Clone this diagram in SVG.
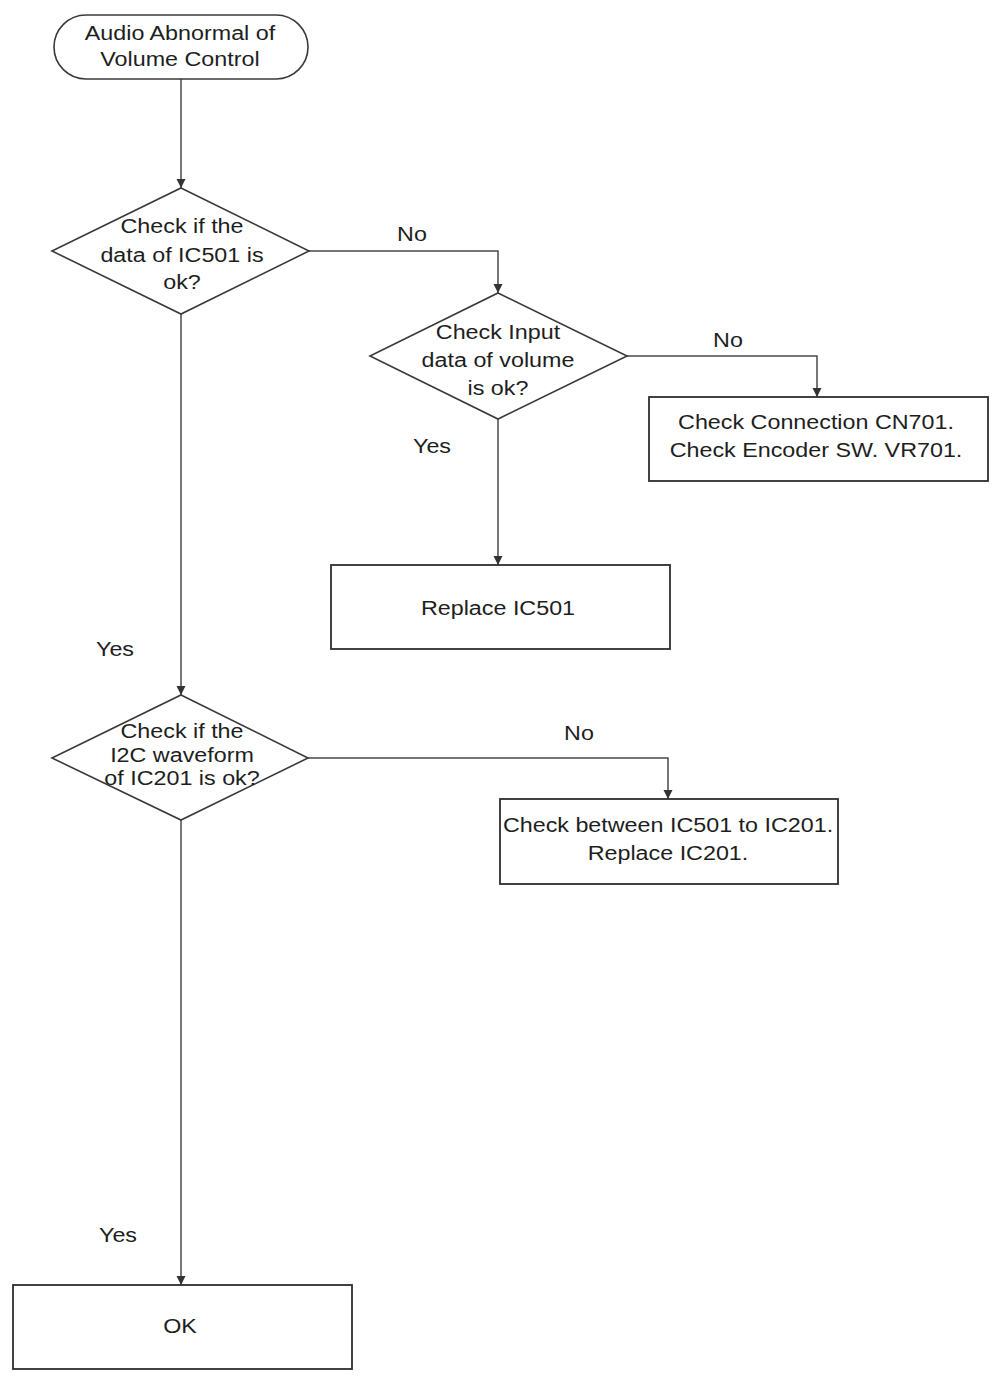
<svg xmlns="http://www.w3.org/2000/svg" width="996" height="1378" viewBox="0 0 996 1378">
<defs>
<style>
.shape{fill:#fff;stroke:#3a3a3a;stroke-width:1.6}
.box{fill:#fff;stroke:#2e2e2e;stroke-width:1.8}
.conn{fill:none;stroke:#4a4a4a;stroke-width:1.5}
text{font-family:"Liberation Sans",Arial,sans-serif;font-size:21px;fill:#1e1e1e;text-anchor:middle}
</style>
<marker id="arr" markerWidth="11" markerHeight="10" refX="9" refY="4.5" orient="auto" markerUnits="userSpaceOnUse">
<path d="M0,0 L9,4.5 L0,9 z" fill="#333"/>
</marker>
</defs>
<rect width="996" height="1378" fill="#fff"/>

<g id="connectors">
<path class="conn" d="M181,79 V188" marker-end="url(#arr)"/>
<path class="conn" d="M309,251 H498 V293" marker-end="url(#arr)"/>
<path class="conn" d="M627,356 H817 V397" marker-end="url(#arr)"/>
<path class="conn" d="M498,419 V565" marker-end="url(#arr)"/>
<path class="conn" d="M181,314 V695" marker-end="url(#arr)"/>
<path class="conn" d="M308,758 H668 V799" marker-end="url(#arr)"/>
<path class="conn" d="M181,820 V1285" marker-end="url(#arr)"/>
<text transform="translate(412 0) scale(1.11 1)" x="0" y="241">No</text>
<text transform="translate(728 0) scale(1.11 1)" x="0" y="347">No</text>
<text transform="translate(432 0) scale(1.11 1)" x="0" y="453">Yes</text>
<text transform="translate(115 0) scale(1.11 1)" x="0" y="656">Yes</text>
<text transform="translate(579 0) scale(1.11 1)" x="0" y="740">No</text>
<text transform="translate(118 0) scale(1.11 1)" x="0" y="1242">Yes</text>
</g>

<g id="start">
<rect class="shape" x="54" y="15" width="254" height="64" rx="32" ry="32"/>
<text transform="translate(180 0) scale(1.11 1)" x="0" y="40">Audio Abnormal of</text>
<text transform="translate(180 0) scale(1.11 1)" x="0" y="66">Volume Control</text>
</g>

<g id="decision1">
<path class="shape" d="M181,188 L309,251 L181,314 L52,251 z"/>
<text transform="translate(182 0) scale(1.11 1)" x="0" y="233">Check if the</text>
<text transform="translate(182 0) scale(1.11 1)" x="0" y="262">data of IC501 is</text>
<text transform="translate(182 0) scale(1.11 1)" x="0" y="289">ok?</text>
</g>

<g id="decision2">
<path class="shape" d="M498,293 L627,356 L498,419 L370,356 z"/>
<text transform="translate(498 0) scale(1.11 1)" x="0" y="339">Check Input</text>
<text transform="translate(498 0) scale(1.11 1)" x="0" y="367">data of volume</text>
<text transform="translate(498 0) scale(1.11 1)" x="0" y="395">is ok?</text>
</g>

<g id="checkConnection">
<rect class="box" x="649" y="397" width="339" height="84"/>
<text transform="translate(816 0) scale(1.11 1)" x="0" y="429">Check Connection CN701.</text>
<text transform="translate(816 0) scale(1.11 1)" x="0" y="457">Check Encoder SW. VR701.</text>
</g>

<g id="replaceIC501">
<rect class="box" x="331" y="565" width="339" height="84"/>
<text transform="translate(498 0) scale(1.11 1)" x="0" y="615">Replace IC501</text>
</g>

<g id="decision3">
<path class="shape" d="M181,695 L308,758 L181,820 L52,758 z"/>
<text transform="translate(182 0) scale(1.11 1)" x="0" y="738">Check if the</text>
<text transform="translate(182 0) scale(1.11 1)" x="0" y="762">I2C waveform</text>
<text transform="translate(182 0) scale(1.11 1)" x="0" y="785">of IC201 is ok?</text>
</g>

<g id="checkBetween">
<rect class="box" x="500" y="799" width="338" height="85"/>
<text transform="translate(668 0) scale(1.11 1)" x="0" y="832">Check between IC501 to IC201.</text>
<text transform="translate(668 0) scale(1.11 1)" x="0" y="860">Replace IC201.</text>
</g>

<g id="ok">
<rect class="box" x="13" y="1285" width="339" height="84"/>
<text transform="translate(180 0) scale(1.11 1)" x="0" y="1333">OK</text>
</g>
</svg>
